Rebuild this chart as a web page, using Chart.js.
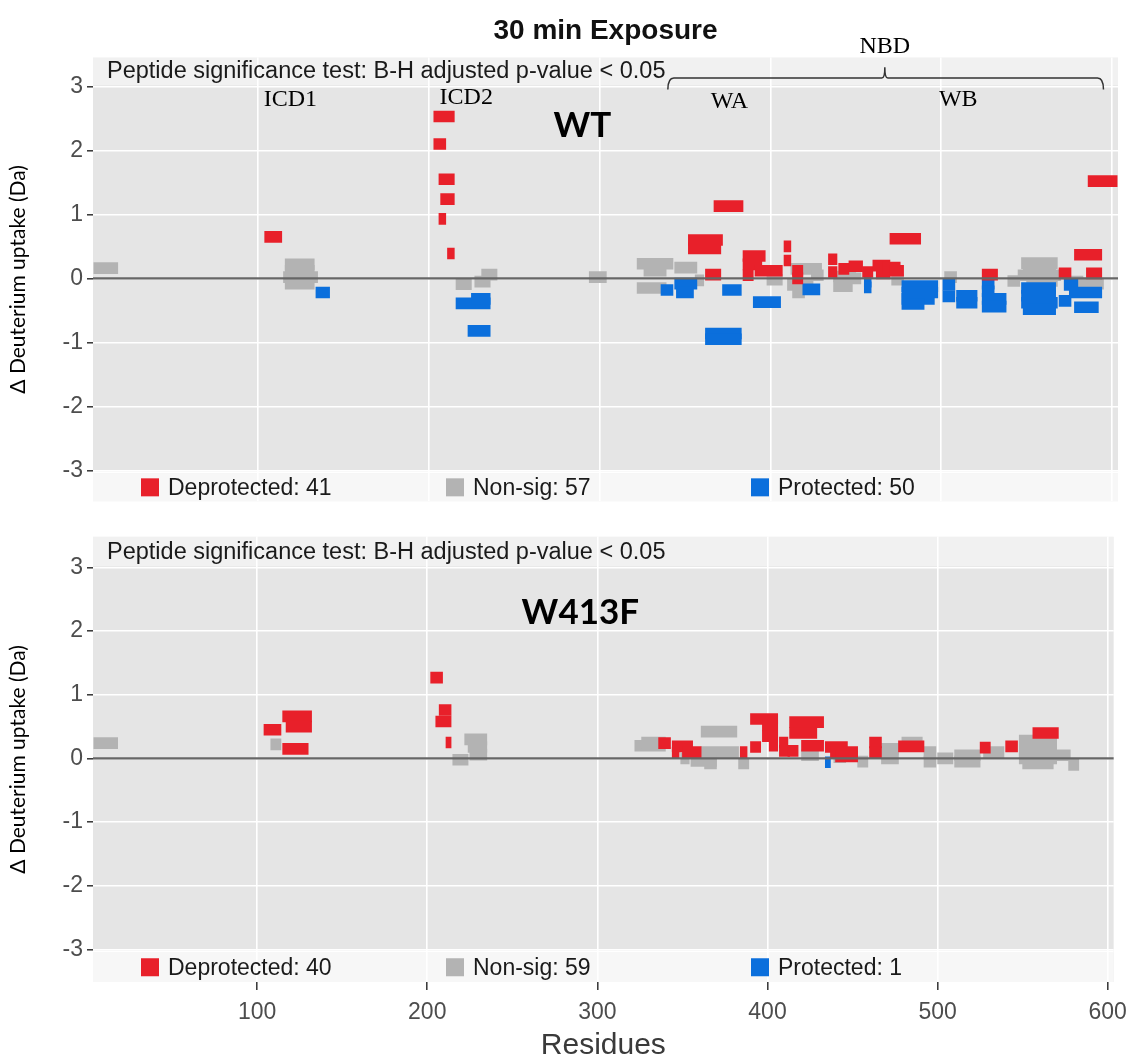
<!DOCTYPE html>
<html>
<head>
<meta charset="utf-8">
<script src="https://cdn.jsdelivr.net/npm/chart.js@4.4.1/dist/chart.umd.min.js"></script>
<style>
  html, body { margin: 0; padding: 0; background: #fff; }
  #page { position: relative; width: 1136px; height: 1061px; }
  .box { position: absolute; left: 0; width: 1136px; }
  #topBox { top: 0; height: 519px; }
  #bottomBox { top: 519px; height: 542px; }
</style>
</head>
<body>
<div id="page">
  <div class="box" id="topBox"><canvas id="wtChart"></canvas></div>
  <div class="box" id="bottomBox"><canvas id="mutChart"></canvas></div>
</div>
<script>
// axis ticks
var xTicks = [100, 200, 300, 400, 500, 600];
var yTicks = [-3, -2, -1, 0, 1, 2, 3];

var categories = ["Deprotected", "Non-sig", "Protected"];
var wtCounts = [41, 57, 50];
var mutCounts = [40, 59, 1];

// peptides: [start residue, end residue, delta uptake (Da)]
var wtDeprotected = [
  [104, 114, 0.65], [203, 215, 2.53], [203, 210, 2.10], [206, 215, 1.55], [207, 215, 1.24],
  [206, 210, 0.93], [211, 215, 0.39], [352, 372, 0.60], [352, 371, 0.47], [362, 371, 0.06],
  [367, 384, 1.13], [384, 397, 0.35], [384, 395, 0.22], [384, 390, 0.05], [391, 407, 0.12],
  [408, 412, 0.50], [408, 412, 0.28], [413, 419, 0.12], [413, 419, 0.00], [434, 439, 0.30],
  [434, 439, 0.10], [440, 446, 0.15], [446, 454, 0.19], [454, 460, 0.10], [460, 470, 0.20],
  [462, 470, 0.08], [466, 476, 0.17], [470, 478, 0.12], [470, 488, 0.62], [524, 533, 0.06],
  [569, 576, 0.08], [578, 594, 0.37], [585, 594, 0.08], [586, 603, 1.52]
];
var wtNonSig = [
  [4, 18, 0.16], [116, 133, 0.22], [116, 133, 0.12], [115, 135, 0.02], [116, 133, -0.08],
  [216, 225, -0.09], [227, 236, -0.05], [231, 240, 0.06], [294, 304, 0.02], [322, 343, 0.23],
  [326, 339, 0.12], [322, 339, -0.15], [344, 357, 0.17], [356, 361, -0.03], [398, 407, -0.02],
  [412, 430, 0.15], [410, 425, -0.10], [413, 420, -0.22], [424, 431, 0.05], [437, 450, 0.03],
  [437, 448, -0.12], [447, 453, 0.00], [471, 478, -0.02], [502, 509, 0.02], [539, 546, -0.04],
  [547, 568, 0.24], [548, 567, 0.14], [545, 570, 0.05], [550, 568, -0.04], [576, 583, -0.05],
  [583, 595, -0.08]
];
var wtProtected = [
  [134, 142, -0.22], [216, 236, -0.39], [225, 236, -0.32], [223, 236, -0.82], [336, 343, -0.18],
  [344, 357, -0.08], [345, 355, -0.22], [362, 383, -0.86], [362, 383, -0.95], [372, 383, -0.18],
  [390, 406, -0.37], [419, 429, -0.17], [455, 459, -0.05], [455, 459, -0.14], [477, 498, -0.12],
  [477, 498, -0.22], [477, 496, -0.32], [477, 490, -0.40], [501, 508, -0.10], [501, 508, -0.28],
  [509, 521, -0.27], [509, 521, -0.38], [524, 531, -0.08], [524, 531, -0.20], [524, 538, -0.32],
  [524, 538, -0.44], [547, 567, -0.15], [547, 567, -0.27], [547, 568, -0.38], [548, 567, -0.48],
  [569, 576, -0.35], [572, 580, -0.10], [575, 594, -0.22], [578, 592, -0.45]
];
var mutDeprotected = [
  [104, 114, 0.45], [115, 132, 0.66], [117, 132, 0.50], [115, 130, 0.15], [202, 209, 1.27],
  [207, 214, 0.76], [205, 214, 0.58], [211, 214, 0.25], [336, 343, 0.24], [344, 356, 0.19],
  [344, 348, 0.09], [350, 361, 0.10], [384, 388, 0.10], [390, 396, 0.18], [390, 406, 0.62],
  [397, 406, 0.52], [397, 406, 0.35], [401, 406, 0.20], [407, 412, 0.25], [407, 413, 0.12],
  [412, 418, 0.12], [413, 433, 0.57], [413, 429, 0.40], [420, 433, 0.20], [434, 447, 0.18],
  [437, 453, 0.10], [440, 453, 0.03], [460, 467, 0.25], [460, 467, 0.10], [477, 492, 0.19],
  [525, 531, 0.17], [540, 547, 0.19], [556, 571, 0.40]
];
var mutNonSig = [
  [4, 18, 0.24], [108, 114, 0.22], [215, 224, -0.02], [222, 235, 0.30], [224, 235, 0.18],
  [225, 235, 0.06], [322, 340, 0.20], [326, 340, 0.25], [349, 354, 0.00], [361, 382, 0.42],
  [361, 383, 0.10], [355, 370, -0.04], [363, 370, -0.08], [383, 389, -0.08], [420, 430, 0.05],
  [439, 446, 0.02], [453, 459, -0.05], [467, 477, 0.15], [467, 477, 0.00], [479, 491, 0.25],
  [492, 499, 0.10], [492, 499, -0.05], [500, 509, 0.00], [510, 525, 0.05], [510, 525, -0.05],
  [527, 539, 0.10], [548, 570, 0.28], [548, 570, 0.20], [548, 570, 0.10], [548, 570, 0.00],
  [550, 568, -0.08], [570, 578, 0.05], [577, 583, -0.10]
];
var mutProtected = [
  [434, 437, -0.06]
];

var barColors = ["#e8202a", "#b3b3b3", "#0b6fdc"];
var sans = '"Liberation Sans", Arial, sans-serif';
var serif = '"Liberation Serif", "Times New Roman", serif';
var bold = 'Lato, "Open Sans", sans-serif';

// text placed in data coordinates (residue, Da)
var wtLabels = [
  { text: "ICD1", x: 119, y: 2.80, font: "24px " + serif },
  { text: "ICD2", x: 222, y: 2.83, font: "24px " + serif },
  { text: "WA", x: 376, y: 2.76, font: "24px " + serif },
  { text: "WB", x: 510, y: 2.80, font: "24px " + serif },
  { text: "NBD", x: 467, y: 3.62, font: "24px " + serif },
  { text: "WT", x: 290, y: 2.39, font: "bold 35px " + bold }
];
var mutLabels = [
  { text: "W413F", x: 290, y: 2.29, font: "bold 35px " + bold }
];

function toPoints(rows) {
  return rows.map(function (r) { return { x: [r[0], r[1]], y: r[2] }; });
}

var panelDecor = {
  id: "panelDecor",
  beforeDraw: function (chart) {
    var ctx = chart.ctx, a = chart.chartArea;
    ctx.save();
    ctx.fillStyle = "#e5e5e5";
    ctx.fillRect(a.left, a.top, a.right - a.left, a.bottom - a.top);
    ctx.restore();
  },
  afterDatasetsDraw: function (chart, args, opts) {
    var ctx = chart.ctx, a = chart.chartArea, x = chart.scales.x, y = chart.scales.y;
    var w = a.right - a.left;
    ctx.save();
    // zero line
    var y0 = y.getPixelForValue(0);
    ctx.strokeStyle = "#666666";
    ctx.lineWidth = 2.2;
    ctx.beginPath(); ctx.moveTo(a.left, y0); ctx.lineTo(a.right, y0); ctx.stroke();

    // significance note band
    var y3 = y.getPixelForValue(3);
    ctx.fillStyle = "rgba(255,255,255,0.45)";
    ctx.fillRect(a.left, a.top, w, y3 - 1 - a.top);
    ctx.fillStyle = "#1a1a1a";
    ctx.font = "23.5px " + sans;
    ctx.textBaseline = "middle";
    ctx.textAlign = "left";
    ctx.fillText("Peptide significance test: B-H adjusted p-value < 0.05", a.left + 14, (a.top + y3) / 2);

    // legend band
    var ym3 = y.getPixelForValue(-3);
    ctx.fillStyle = "#ffffff";
    ctx.fillRect(a.left, ym3 + 1, w, 2);
    ctx.fillStyle = "rgba(255,255,255,0.7)";
    ctx.fillRect(a.left, ym3 + 3, w, a.bottom - ym3 - 3);
    var cy = (ym3 + 3 + a.bottom) / 2;
    ctx.font = "23px " + sans;
    chart.data.datasets.forEach(function (ds, i) {
      var lx = a.left + 48 + i * 305;
      ctx.fillStyle = ds.backgroundColor;
      ctx.fillRect(lx, cy - 9, 18, 18);
      ctx.fillStyle = "#1a1a1a";
      ctx.fillText(ds.label, lx + 27, cy + 1);
    });

    // NBD bracket
    if (opts.bracket) {
      var bx0 = x.getPixelForValue(340), bx1 = x.getPixelForValue(595);
      var bm = x.getPixelForValue(467);
      var by = y.getPixelForValue(3.13), bhook = y.getPixelForValue(2.95), bpeak = y.getPixelForValue(3.30);
      ctx.strokeStyle = "#333333";
      ctx.lineWidth = 1.5;
      ctx.beginPath();
      ctx.moveTo(bx0, bhook);
      ctx.quadraticCurveTo(bx0, by, bx0 + 6, by);
      ctx.lineTo(bm - 3, by);
      ctx.quadraticCurveTo(bm, by, bm, bpeak);
      ctx.quadraticCurveTo(bm, by, bm + 3, by);
      ctx.lineTo(bx1 - 6, by);
      ctx.quadraticCurveTo(bx1, by, bx1, bhook);
      ctx.stroke();
    }

    // region labels
    ctx.textAlign = "center";
    ctx.fillStyle = "#000000";
    opts.labels.forEach(function (l) {
      ctx.font = l.font;
      ctx.fillText(l.text, x.getPixelForValue(l.x), y.getPixelForValue(l.y));
    });
    ctx.restore();
  }
};

function makePanel(canvasId, series, counts, opts) {
  var datasets = series.map(function (rows, i) {
    return {
      label: categories[i] + ": " + counts[i],
      data: toPoints(rows),
      backgroundColor: barColors[i],
      borderWidth: 0,
      barThickness: 11,
      grouped: false,
      order: i === 1 ? 1 : 0
    };
  });

  return new Chart(canvasId, {
    type: "bar",
    data: { datasets: datasets },
    plugins: [panelDecor],
    options: {
      indexAxis: "y",
      responsive: true,
      maintainAspectRatio: false,
      animation: false,
      devicePixelRatio: 1,
      layout: { padding: opts.padding },
      plugins: {
        legend: { display: false },
        tooltip: { enabled: false },
        title: opts.title,
        panelDecor: { labels: opts.labels, bracket: opts.bracket }
      },
      scales: {
        x: {
          type: "linear",
          position: "bottom",
          min: 3.5,
          max: 603.5,
          afterBuildTicks: function (s) { s.ticks = xTicks.map(function (v) { return { value: v }; }); },
          grid: {
            color: "#ffffff", lineWidth: 1.6, drawTicks: opts.showX,
            tickLength: 8, tickColor: "#333333", tickWidth: 1.5
          },
          border: { display: false },
          ticks: {
            display: opts.showX, padding: 9, color: "#4d4d4d",
            font: { family: sans, size: 23 }, maxRotation: 0
          },
          title: {
            display: opts.showX, text: "Residues", color: "#3a3a3a",
            font: { family: sans, size: 30, lineHeight: 1.0 }, padding: { top: 0, bottom: 0 }
          },
          afterFit: function (s) { s.height = opts.showX ? 79 : 0; }
        },
        y: {
          type: "linear",
          min: opts.yMin,
          max: opts.yMax,
          offset: false,
          afterBuildTicks: function (s) { s.ticks = yTicks.map(function (v) { return { value: v }; }); },
          grid: {
            offset: false, color: "#ffffff", lineWidth: 1.6,
            tickLength: 6, tickColor: "#333333", tickWidth: 1.5
          },
          border: { display: false },
          ticks: {
            color: "#4d4d4d", padding: 4, font: { family: sans, size: 23 },
            callback: function (v) { return String(v); }
          },
          title: {
            display: true, text: "\u0394 Deuterium uptake (Da)", color: "#000000",
            font: { family: bold, size: 21 }, padding: { top: 6, bottom: 0 }
          },
          afterFit: function (s) { s.width = 93; }
        }
      }
    }
  });
}

makePanel("wtChart", [wtDeprotected, wtNonSig, wtProtected], wtCounts, {
  yMin: -3.48, yMax: 3.45, showX: false, bracket: true, labels: wtLabels,
  padding: { top: 2, right: 18, bottom: 3, left: 0 },
  title: {
    display: true, text: "30 min Exposure", fullSize: false, color: "#111111",
    font: { family: sans, size: 28, weight: "bold" }, padding: { top: 12, bottom: 10 }
  }
});

makePanel("mutChart", [mutDeprotected, mutNonSig, mutProtected], mutCounts, {
  yMin: -3.51, yMax: 3.48, showX: true, bracket: false, labels: mutLabels,
  padding: { top: 0, right: 18, bottom: 0, left: 0 },
  title: { display: false }
});
</script>
</body>
</html>
